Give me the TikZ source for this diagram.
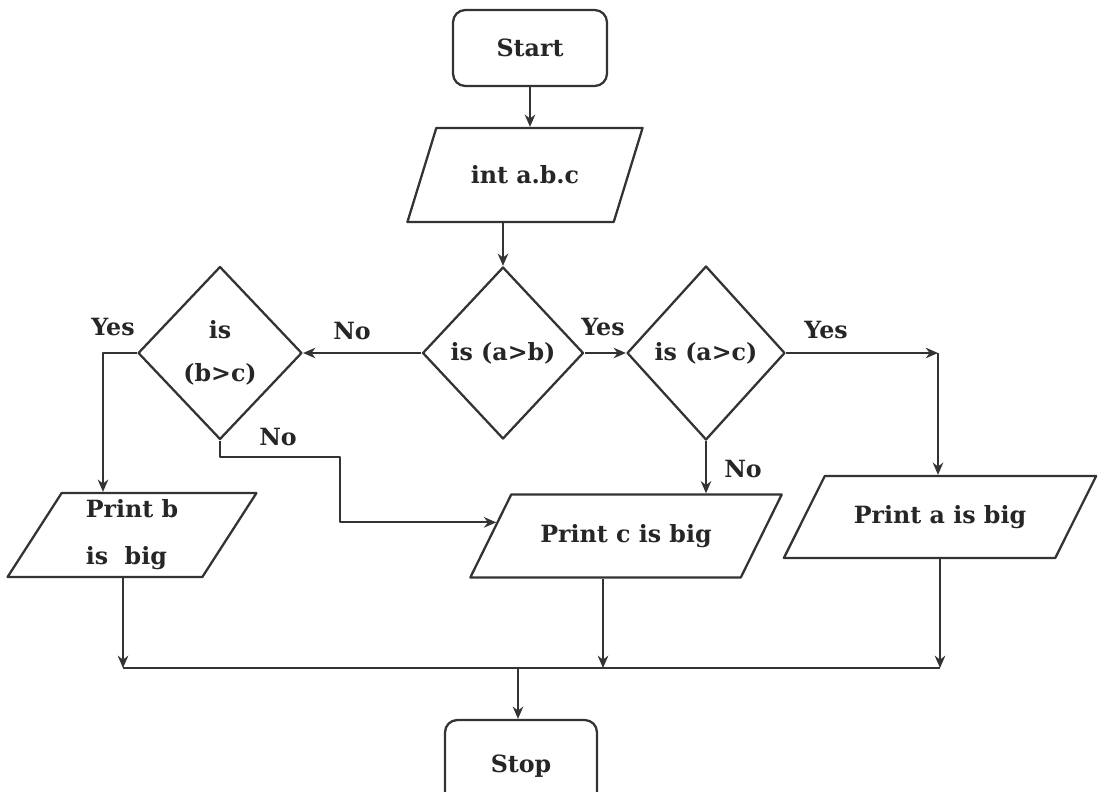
\documentclass[tikz,border=0pt]{standalone}
\usepackage{fontspec}
\setmainfont{DejaVu Serif}
\usetikzlibrary{shapes.geometric,arrows.meta,calc}

\begin{document}
\begin{tikzpicture}
	[x=0.02cm,y=-0.02cm,line join=round,
	every node/.style={font=\fontsize{13.5}{16}\selectfont\bfseries,text=black!85},
	term/.style={draw=black!80,line width=1.3pt,rounded corners=7pt},
	io/.style={draw=black!80,line width=1.3pt,trapezium,trapezium stretches=true},
	dec/.style={draw=black!80,line width=1.3pt,diamond,inner sep=0pt},
	arr/.style={-{Stealth[length=7pt,width=6pt]},draw=black!80,line width=1.1pt},
	lbl/.style={inner sep=1pt}]
	\useasboundingbox (0,0) rectangle (1098,791);
	
	\node[term,minimum width=3.08cm,minimum height=1.52cm] (start) at (530,48) {Start};
	\node[io,trapezium left angle=57,trapezium right angle=123,minimum width=4.72cm,minimum height=1.88cm] (in) at (525,175) {int a.b.c};
	\node[dec,minimum width=3.22cm,minimum height=3.44cm] (ab) at (503,353) {is (a>b)};
	\node[dec,minimum width=3.28cm,minimum height=3.46cm,align=center] (bc) at (220,353) {is\\[0.3cm](b>c)};
	\node[dec,minimum width=3.16cm,minimum height=3.48cm] (ac) at (706,353) {is (a>c)};
	\node[io,trapezium left angle=64,trapezium right angle=116,minimum width=4.98cm,minimum height=1.68cm,align=left] (pb) at (132,535) {Print b\\[0.38cm]is\ \ big};
	\node[io,trapezium left angle=47,trapezium right angle=133,minimum width=6.24cm,minimum height=1.66cm] (pc) at (626,536) {Print c is big};
	\node[io,trapezium left angle=47,trapezium right angle=133,minimum width=6.26cm,minimum height=1.64cm] (pa) at (940,517) {Print a is big};
	\node[term,minimum width=3.04cm,minimum height=1.84cm] (stop) at (521,766) {Stop};
	
	\node[lbl] (nol) at (352,331) {No};
	\node[lbl] (yesl) at (113,327) {Yes};
	\node[lbl] (nob) at (278,437) {No};
	\node[lbl] (yesm) at (603,327) {Yes};
	\node[lbl] (yesr) at (826,330) {Yes};
	\node[lbl] (noc) at (743,469) {No};
	
	\coordinate (yb) at (103,353);
	\coordinate (ya) at (938,353);
	\coordinate (bend) at (340,457);
	\coordinate (cin) at ($(pc.bottom left corner)!0.66!(pc.top left corner)$);
	\coordinate (jb) at (123,668);
	\coordinate (jc) at (603,668);
	\coordinate (ja) at (940,668);
	\coordinate (js) at (518,668);
	
	\draw[arr] (start.south) -- (start.south |- in.north);
	\draw[arr] (ab.north |- in.south) -- (ab.north);
	\draw[arr] (ab.west) -- (bc.east);
	\draw[arr] (ab.east) -- (ac.west);
	\draw[arr] (bc.west) -- (yb) -- (yb |- pb.north);
	\draw[arr] (bc.south) |- (bend) |- (cin);
	\draw[arr] (ac.south) -- (ac.south |- pc.north);
	\draw[arr] (ac.east) -- (ya);
	\draw[arr] (ya) -- (ya |- pa.north);
	\foreach \from/\to in {pb/jb,pc/jc,pa/ja}
	\draw[arr] (\from.south -| \to) -- (\to);
	\draw[draw=black!80,line width=1.1pt] (jb) -- (ja);
	\draw[arr] (js) -- (js |- stop.north);
\end{tikzpicture}
\end{document}
